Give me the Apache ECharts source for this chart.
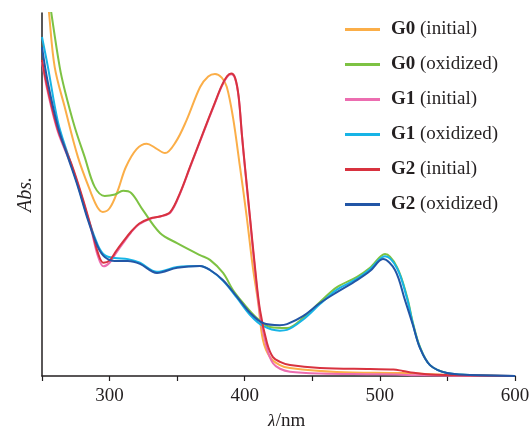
<!DOCTYPE html>
<html>
<head>
<meta charset="utf-8">
<script src="https://cdn.jsdelivr.net/npm/echarts@6/dist/echarts.min.js"></script>
<style>
  html, body { margin: 0; padding: 0; background: #fff; }
  #chart { width: 532px; height: 426px; }
</style>
</head>
<body>
<div id="chart"></div>
<script>
// UV-vis spectra, [wavelength nm, absorbance a.u.]
var g0Initial = [[250,1.2],[255.2,1.0],[259.4,0.851],[266.8,0.741],[276.6,0.603],[286.3,0.504],[291,0.465],[295,0.452],[300,0.462],[306,0.51],[312,0.575],[320,0.625],[327.5,0.64],[334,0.628],[341,0.614],[349,0.645],[357,0.705],[367,0.796],[373,0.825],[378,0.832],[383,0.822],[386.7,0.797],[391.3,0.713],[396.5,0.576],[401.5,0.438],[406,0.3],[410,0.201],[413.5,0.099],[418.7,0.052],[426,0.03],[433.5,0.022],[468,0.011],[517,0.008],[550,0.003],[600,0]];
var g0Oxidized = [[250,1.18],[256.9,1.0],[263.1,0.851],[266.8,0.788],[274.2,0.686],[281.6,0.603],[289,0.521],[296.4,0.496],[304,0.5],[310,0.51],[316,0.504],[324.7,0.457],[337.3,0.394],[349.9,0.366],[366.9,0.333],[374.3,0.32],[384,0.284],[391.3,0.237],[400,0.196],[408.9,0.16],[418.7,0.135],[431.3,0.132],[443.1,0.16],[455.7,0.204],[468.3,0.245],[483.1,0.273],[492.7,0.298],[503.8,0.336],[512.7,0.3],[520.1,0.218],[524.5,0.146],[529.7,0.08],[537.1,0.03],[549.7,0.008],[564.5,0.003],[600,0]];
var g1Initial = [[250,0.865],[254.4,0.78],[261.8,0.672],[271.5,0.582],[278.9,0.5],[286.3,0.405],[291.4,0.33],[295.5,0.302],[300,0.312],[305,0.34],[310,0.366],[316,0.396],[322,0.418],[330,0.433],[338,0.44],[345,0.45],[352.1,0.502],[359.5,0.574],[369.1,0.667],[378,0.752],[383,0.798],[387,0.824],[390,0.831],[393,0.818],[395.5,0.768],[398,0.66],[400.2,0.572],[403.9,0.432],[407.6,0.292],[411.3,0.172],[416.5,0.075],[420.9,0.035],[426.1,0.02],[433.5,0.012],[455.7,0.007],[492.7,0.005],[512.7,0.004],[530,0.002],[600,0]];
var g1Oxidized = [[250,0.934],[254.4,0.851],[261.8,0.7],[269.2,0.61],[276.6,0.525],[284,0.435],[291.4,0.36],[296.4,0.333],[303.8,0.325],[313.6,0.322],[322.5,0.312],[335.1,0.287],[350,0.3],[366.9,0.303],[374.3,0.292],[384,0.262],[394.3,0.215],[404,0.168],[413.5,0.138],[426,0.125],[431.3,0.127],[443.1,0.155],[455.7,0.198],[468.3,0.238],[483.1,0.268],[492.7,0.294],[503.8,0.33],[512.7,0.297],[520.1,0.214],[524.5,0.143],[529.7,0.078],[537.1,0.03],[549.7,0.008],[566.7,0.003],[600,0]];
var g2Initial = [[250,0.871],[254.4,0.788],[261.8,0.678],[271.5,0.587],[278.9,0.504],[286.3,0.41],[291.4,0.339],[295.5,0.312],[300,0.318],[305,0.345],[310,0.37],[316,0.398],[322,0.42],[330,0.434],[338,0.44],[345,0.452],[352.1,0.504],[359.5,0.576],[369.1,0.669],[378,0.754],[383,0.8],[387,0.826],[390,0.833],[393,0.82],[395.5,0.77],[398,0.662],[400.2,0.576],[403.9,0.438],[407.6,0.3],[411.3,0.182],[416.5,0.091],[420.9,0.052],[426.1,0.039],[433.5,0.03],[455.7,0.022],[492.7,0.019],[510,0.018],[517,0.014],[525,0.009],[535,0.005],[549.7,0.003],[600,0]];
var g2Oxidized = [[250,0.906],[254.4,0.807],[261.8,0.686],[269.2,0.603],[276.6,0.521],[284,0.43],[291.4,0.355],[296.4,0.328],[303.8,0.317],[313.6,0.317],[322.5,0.309],[335.1,0.284],[350,0.298],[366.9,0.303],[374.3,0.292],[384,0.264],[394.3,0.218],[404,0.174],[413.5,0.146],[426,0.14],[431.3,0.143],[443.1,0.165],[455.7,0.201],[468.3,0.231],[483.1,0.264],[492.7,0.289],[502.3,0.322],[511.2,0.292],[518.6,0.209],[524.5,0.14],[529.7,0.077],[537.1,0.03],[549.7,0.008],[566.7,0.003],[600,0]];

var seriesNames = ['G0 (initial)', 'G0 (oxidized)', 'G1 (initial)', 'G1 (oxidized)', 'G2 (initial)', 'G2 (oxidized)'];
var seriesData = [g0Initial, g0Oxidized, g1Initial, g1Oxidized, g2Initial, g2Oxidized];
var seriesColors = ['#FBAE48', '#7DC243', '#EC6DB0', '#17B4E6', '#D8323F', '#2256A6'];

var SERIF = "'Liberation Serif', 'DejaVu Serif', serif";

var chart = echarts.init(document.getElementById('chart'));

var series = [];
seriesNames.forEach(function (name, i) {
    series.push({
        name: name,
        type: 'line',
        data: seriesData[i],
        smooth: 0.35,
        symbol: 'none',
        clip: true,
        lineStyle: { width: 2, color: seriesColors[i] },
        itemStyle: { color: seriesColors[i] }
    });
});

var option = {
    animation: false,
    backgroundColor: '#fff',
    grid: { left: 42, right: 17, top: 13, bottom: 50, outerBoundsMode: 'none' },
    legend: {
        orient: 'vertical',
        left: 340,
        top: 15,
        icon: 'rect',
        itemWidth: 35,
        itemHeight: 3,
        itemGap: 16,
        data: seriesNames,
        formatter: function (name) {
            var parts = name.split(' ');
            return '{b|' + parts[0] + '} ' + parts[1];
        },
        textStyle: {
            fontFamily: SERIF,
            fontSize: 19,
            color: '#231f20',
            padding: [0, 0, 0, 6],
            rich: {
                b: { fontFamily: SERIF, fontSize: 19, fontWeight: 'bold', color: '#231f20' }
            }
        }
    },
    xAxis: {
        type: 'value',
        min: 250,
        max: 600,
        interval: 50,
        name: '{i|λ}/nm',
        nameLocation: 'middle',
        nameGap: 36,
        nameTextStyle: {
            fontFamily: SERIF,
            fontSize: 19,
            color: '#231f20',
            padding: [0, 0, 0, 16],
            rich: { i: { fontFamily: SERIF, fontStyle: 'italic', fontSize: 19, color: '#231f20' } }
        },
        axisLine: { lineStyle: { color: '#231f20', width: 1.5 } },
        axisTick: { inside: false, length: 5, lineStyle: { color: '#231f20', width: 1.2 } },
        axisLabel: {
            margin: 11,
            fontFamily: SERIF,
            fontSize: 19,
            color: '#231f20',
            formatter: function (v) { return v % 100 === 0 ? String(v) : ''; }
        },
        splitLine: { show: false }
    },
    yAxis: {
        type: 'value',
        min: 0,
        max: 1,
        name: 'Abs.',
        nameLocation: 'middle',
        nameGap: 6,
        nameTextStyle: { fontFamily: SERIF, fontStyle: 'italic', fontSize: 20, color: '#231f20' },
        axisLine: { show: true, lineStyle: { color: '#231f20', width: 1.5 } },
        axisTick: { show: false },
        axisLabel: { show: false },
        splitLine: { show: false }
    },
    series: series
};

chart.setOption(option);
</script>
</body>
</html>
